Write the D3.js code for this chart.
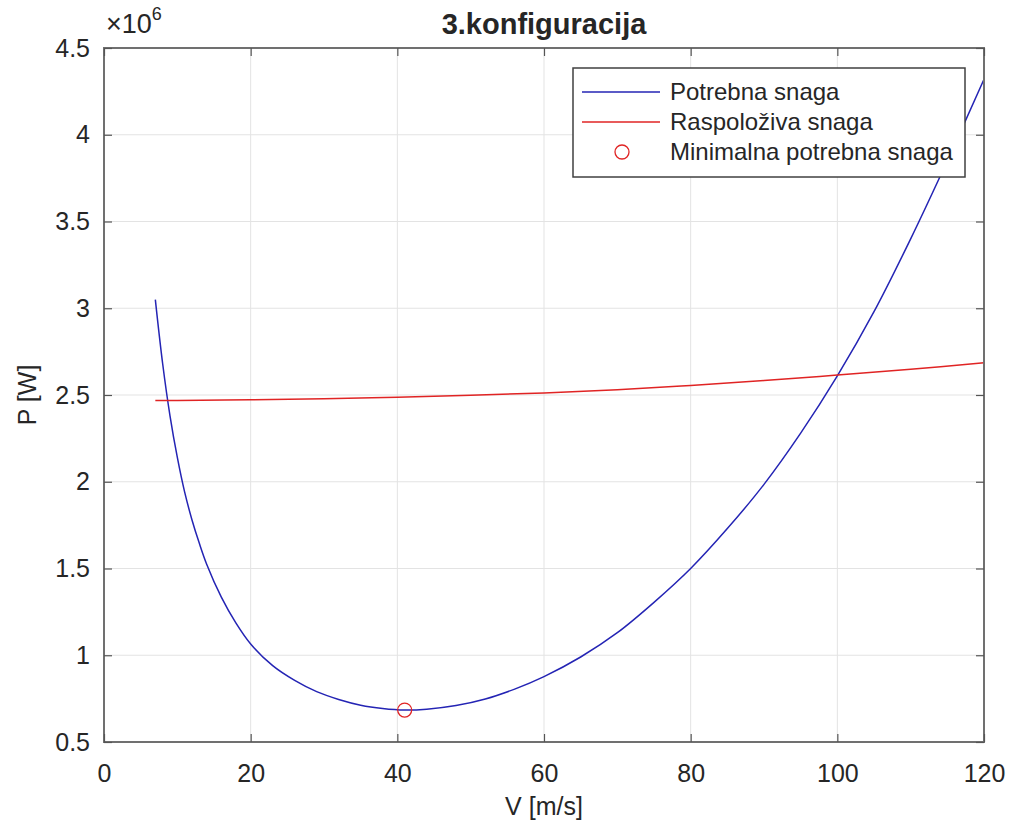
<!DOCTYPE html>
<html lang="en">
<head>
<meta charset="UTF-8" />
<title>3.konfiguracija</title>
<style>
  body { margin: 0; background: #fff; }
  svg text { font-family: "Liberation Sans", Arial, sans-serif; fill: #262626; }
  .grid line { stroke: #e3e3e3; stroke-width: 1; }
  .frame line, .frame rect { stroke: #707070; }
</style>
<script src="https://d3js.org/d3.v7.min.js"></script>
</head>
<body>
<div id="chart"></div>
<script>
// values, P in units of 1e6 W
const speedV = [7, 8, 9, 10, 11, 12, 13, 14, 16, 18, 20, 23, 26, 29, 32, 35, 38, 41, 44, 48, 52, 56, 60, 65, 70, 75, 80, 85, 90, 95, 100, 105, 110, 115, 120];
const requiredP = [3.05, 2.68, 2.38, 2.14, 1.94, 1.78, 1.645, 1.525, 1.335, 1.185, 1.065, 0.94, 0.855, 0.79, 0.745, 0.712, 0.693, 0.684, 0.689, 0.71, 0.748, 0.805, 0.877, 0.99, 1.13, 1.305, 1.50, 1.73, 1.985, 2.28, 2.61, 2.98, 3.40, 3.85, 4.32];
const availV = [7, 10, 20, 30, 40, 50, 60, 70, 80, 90, 100, 110, 120];
const availP = [2.468, 2.469, 2.472, 2.478, 2.487, 2.498, 2.512, 2.530, 2.555, 2.583, 2.615, 2.648, 2.686];
const minV = 41;
const minP = 0.684;
const xTicks = [0, 20, 40, 60, 80, 100, 120];
const yTicks = [0.5, 1, 1.5, 2, 2.5, 3, 3.5, 4, 4.5];
const legendNames = ["Potrebna snaga", "Raspoloživa snaga", "Minimalna potrebna snaga"];

const width = 1013, height = 830;
const mLeft = 104, mRight = 984, mTop = 48, mBottom = 742;
const blue = "#2424b4", red = "#e02424";

const svg = d3.select("#chart").append("svg")
    .attr("width", width)
    .attr("height", height);

const x = d3.scaleLinear().domain([0, 120]).range([mLeft, mRight]);
const y = d3.scaleLinear().domain([0.5, 4.5]).range([mBottom, mTop]);

// grid
const grid = svg.append("g").attr("class", "grid");
grid.selectAll(".gx").data(xTicks.slice(1, -1)).join("line")
    .attr("x1", d => x(d)).attr("x2", d => x(d))
    .attr("y1", mTop).attr("y2", mBottom);
grid.selectAll(".gy").data(yTicks.slice(1, -1)).join("line")
    .attr("y1", d => y(d)).attr("y2", d => y(d))
    .attr("x1", mLeft).attr("x2", mRight);

// lines
const required = speedV.map((v, i) => [v, requiredP[i]]);
const available = availV.map((v, i) => [v, availP[i]]);
const line = d3.line().x(d => x(d[0])).y(d => y(d[1])).curve(d3.curveCatmullRom.alpha(0.5));

svg.append("path").datum(required)
    .attr("d", line).attr("fill", "none")
    .attr("stroke", blue).attr("stroke-width", 1.5);
svg.append("path").datum(available)
    .attr("d", line).attr("fill", "none")
    .attr("stroke", red).attr("stroke-width", 1.5);
svg.append("circle")
    .attr("cx", x(minV)).attr("cy", y(minP)).attr("r", 7)
    .attr("fill", "none").attr("stroke", red).attr("stroke-width", 1.3);

// axes box with inward ticks, like matlab
const frame = svg.append("g").attr("class", "frame");
const gB = svg.append("g").attr("transform", `translate(0,${mBottom})`)
    .call(d3.axisBottom(x).tickValues(xTicks).tickSizeInner(-8).tickSizeOuter(0).tickPadding(22));
const gT = svg.append("g").attr("transform", `translate(0,${mTop})`)
    .call(d3.axisTop(x).tickValues(xTicks).tickSizeInner(-8).tickSizeOuter(0).tickFormat(""));
const gL = svg.append("g").attr("transform", `translate(${mLeft},0)`)
    .call(d3.axisLeft(y).tickValues(yTicks).tickSizeInner(-8).tickSizeOuter(0).tickPadding(14).tickFormat(d3.format("")));
const gR = svg.append("g").attr("transform", `translate(${mRight},0)`)
    .call(d3.axisRight(y).tickValues(yTicks).tickSizeInner(-8).tickSizeOuter(0).tickFormat(""));
[gB, gT, gL, gR].forEach(g => {
    g.select(".domain").remove();
    g.selectAll("line").attr("stroke", "#555").attr("stroke-width", 1.2);
    g.selectAll("text").attr("font-size", 25).attr("fill", "#262626")
        .attr("font-family", "'Liberation Sans', Arial, sans-serif");
});
frame.append("rect")
    .attr("x", mLeft).attr("y", mTop)
    .attr("width", mRight - mLeft).attr("height", mBottom - mTop)
    .attr("fill", "none").attr("stroke-width", 2);

// exponent label
const expo = svg.append("text").attr("x", mLeft + 2).attr("y", 33).attr("font-size", 27);
expo.append("tspan").text("×10");
expo.append("tspan").attr("dy", -13).attr("font-size", 18).text("6");

// titles
svg.append("text").attr("x", (mLeft + mRight) / 2).attr("y", 34)
    .attr("text-anchor", "middle").attr("font-size", 29).attr("font-weight", "bold")
    .text("3.konfiguracija");
svg.append("text").attr("x", (mLeft + mRight) / 2).attr("y", 815)
    .attr("text-anchor", "middle").attr("font-size", 25)
    .text("V [m/s]");
svg.append("text")
    .attr("transform", `translate(36,${(mTop + mBottom) / 2}) rotate(-90)`)
    .attr("text-anchor", "middle").attr("font-size", 25)
    .text("P [W]");

// legend
const lg = svg.append("g").attr("transform", "translate(573,68)");
lg.append("rect").attr("width", 392).attr("height", 109)
    .attr("fill", "#fff").attr("stroke", "#404040").attr("stroke-width", 1.5);
const rows = lg.selectAll(".row").data(legendNames).join("g")
    .attr("transform", (d, i) => `translate(0,${24 + i * 30})`);
rows.append("text").attr("x", 97).attr("y", 8).attr("font-size", 24).text(d => d);
rows.filter((d, i) => i < 2).append("line")
    .attr("x1", 9).attr("x2", 87).attr("y1", 0).attr("y2", 0)
    .attr("stroke", (d, i) => i === 0 ? blue : red).attr("stroke-width", 1.5);
rows.filter((d, i) => i === 2).append("circle")
    .attr("cx", 49).attr("cy", 0).attr("r", 7)
    .attr("fill", "none").attr("stroke", red).attr("stroke-width", 1.3);
</script>
</body>
</html>
